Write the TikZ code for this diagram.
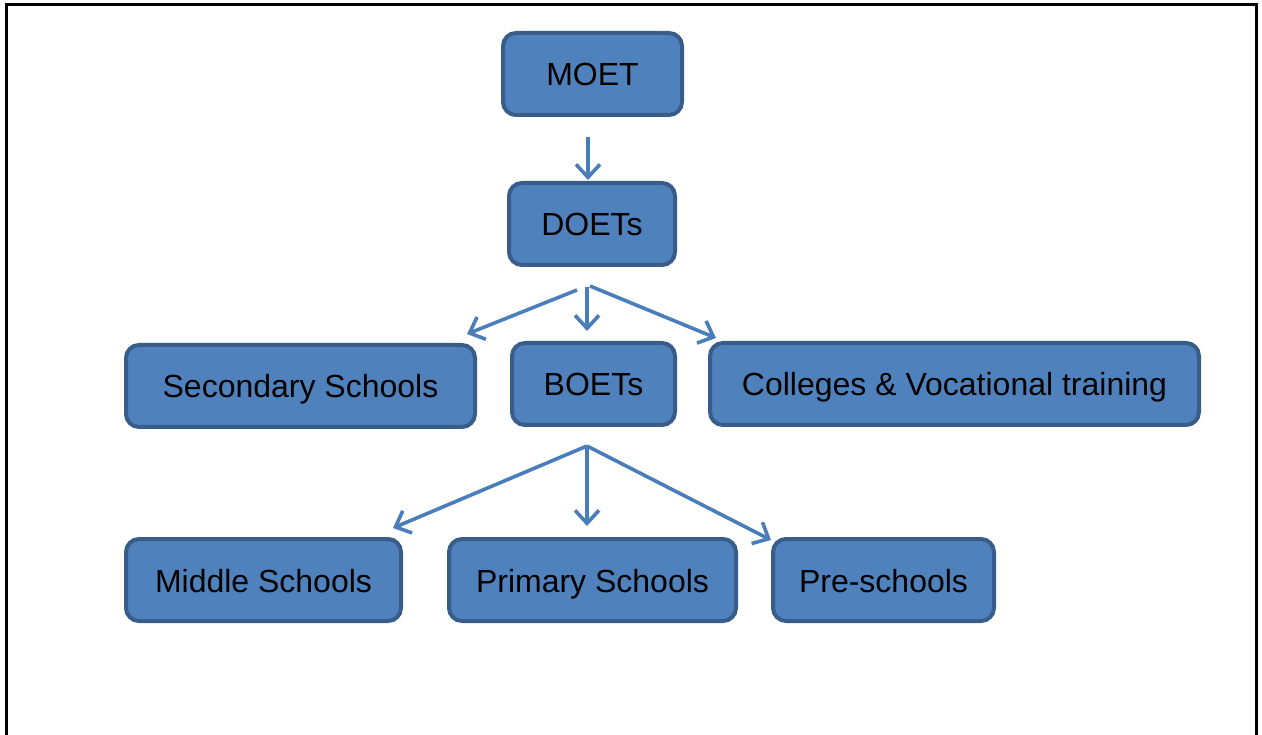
\documentclass[tikz,border=0pt]{standalone}
\usepackage{fontspec}
\setmainfont{Liberation Sans}
\usepackage{xcolor}
\usetikzlibrary{arrows.meta}

\definecolor{boxfill}{HTML}{4F81BD}
\definecolor{boxline}{HTML}{385D8A}
\definecolor{arrowcol}{HTML}{4A7EBB}

\tikzset{
  unit/.style={draw=boxline, fill=boxfill, line width=4pt, rounded corners=13pt,
    minimum height=82pt, inner sep=0pt, text=black,
    text height=24pt, text depth=-12pt,
    font=\fontsize{32}{38}\selectfont},
  link/.style={draw=arrowcol, line width=3.6pt,
    -{Straight Barb[length=13pt, width=24pt, line width=3.6pt]}}
}

\begin{document}
\begin{tikzpicture}[x=1pt,y=-1pt]
\useasboundingbox (0,0) rectangle (1262,735);
\draw[line width=3pt] (6,735) -- (6,5) -- (1256,5) -- (1256,735);

\draw (592.5,74)  node (moet)  [unit, minimum width=179pt] {MOET};
\draw (592,224)   node (doets) [unit, minimum width=166pt] {DOETs};

\draw (300.5,386) node (sec)   [unit, minimum width=349pt] {Secondary Schools};
\draw (593.5,384) node (boets) [unit, minimum width=163pt] {BOETs};
\draw (954.5,384) node (coll)  [unit, minimum width=489pt] {Colleges \& Vocational training};

\draw (263.5,580) node (mid)   [unit, minimum width=275pt] {Middle Schools};
\draw (592.5,580) node (prim)  [unit, minimum width=287pt] {Primary Schools};
\draw (883.5,580) node (pre)   [unit, minimum width=221pt] {Pre-schools};

% arrow heads end just above the boxes
\coordinate (m0) at (588,137);
\coordinate (m1) at (588,180);
\draw[link] (m0) -- (m1);

\coordinate (d0) at (577,290);
\coordinate (d1) at (587,287);
\coordinate (d2) at (590,286);
\coordinate (d3) at (467,334);
\coordinate (d4) at (587,331);
\coordinate (d5) at (716,338);
\draw[link] (d0) -- (d3);
\draw[link] (d1) -- (d4);
\draw[link] (d2) -- (d5);

\coordinate (b0) at (587,446);
\coordinate (b1) at (393,528);
\coordinate (b2) at (587,526);
\coordinate (b3) at (771,540);
\draw[link] (b0) -- (b1);
\draw[link] (b0) -- (b2);
\draw[link] (b0) -- (b3);

\end{tikzpicture}
\end{document}
